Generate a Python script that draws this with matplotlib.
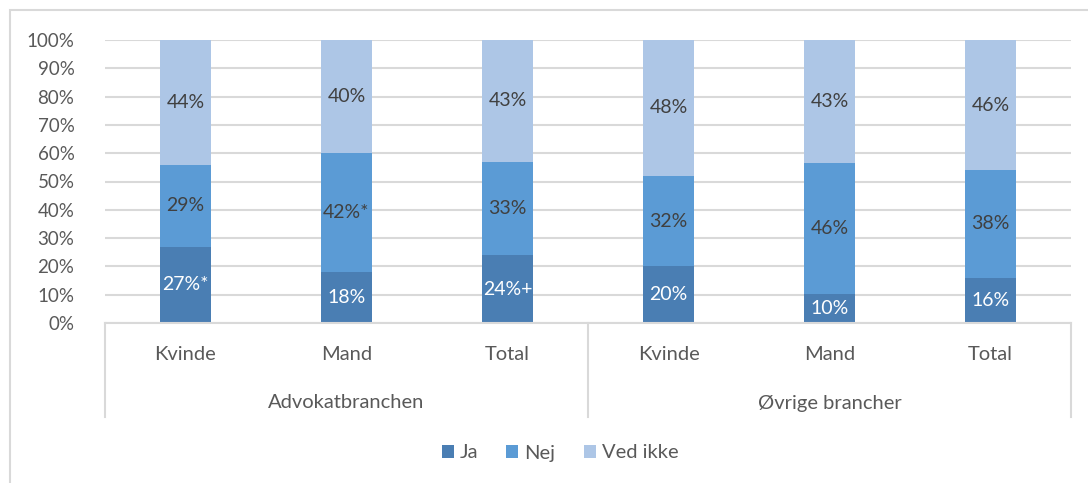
import numpy as np
import matplotlib
matplotlib.use("Agg")
import matplotlib.pyplot as plt
from matplotlib.patches import Rectangle
from matplotlib.lines import Line2D
import matplotlib.transforms as mtransforms

plt.rcParams["font.family"] = ["Lato", "DejaVu Sans"]

# Data
categories = ["Kvinde", "Mand", "Total", "Kvinde", "Mand", "Total"]
groups = ["Advokatbranchen", "Øvrige brancher"]
ja = [27, 18, 24, 20, 10, 16]
nej = [29, 42, 33, 32, 46, 38]
ved_ikke = [44, 40, 43, 48, 43, 46]
ja_labels = ["27%*", "18%", "24%+", "20%", "10%", "16%"]
nej_labels = ["29%", "42%*", "33%", "32%", "46%", "38%"]
ved_labels = ["44%", "40%", "43%", "48%", "43%", "46%"]
series_names = ["Ja", "Nej", "Ved ikke"]
colors = ["#4a7eb3", "#5b9bd5", "#adc6e6"]

W, H = 1088, 483
fig = plt.figure(figsize=(W / 100, H / 100), dpi=100)

# outer chart frame (left/top visible)
fig.patches.append(Rectangle((10 / W, -0.1), 1.2, 1 - 10 / H + 0.1,
                             transform=fig.transFigure, fill=False,
                             edgecolor="#d9d9d9", linewidth=1.5))

ax = fig.add_axes([105 / W, 1 - 323 / H, (1071 - 105) / W, 283 / H])
x = np.arange(len(categories))
bw = 0.32

# 100% stacked: normalise each column by its total
totals = np.array(ja) + np.array(nej) + np.array(ved_ikke)

bottoms = np.zeros(len(x))
handles = []
for vals, labs, col, name, tcol in zip([ja, nej, ved_ikke],
                                       [ja_labels, nej_labels, ved_labels],
                                       colors, series_names,
                                       ["white", "#404040", "#404040"]):
    vals = np.array(vals) / totals
    b = ax.bar(x, vals, bw, bottom=bottoms, color=col, label=name, zorder=2)
    handles.append(b)
    for xi, v, bt, lab in zip(x, vals, bottoms, labs):
        ax.text(xi, bt + v / 2, lab, ha="center", va="center",
                color=tcol, fontsize=14, zorder=3)
    bottoms = bottoms + vals

ax.set_xlim(-0.5, 5.5)
ax.set_ylim(0, 1)
ax.set_yticks(np.arange(0, 1.01, 0.1))
ax.set_yticklabels([f"{int(round(t * 100))}%" for t in np.arange(0, 1.01, 0.1)])
ax.yaxis.grid(True, color="#d9d9d9", linewidth=1.5, zorder=0)
ax.set_axisbelow(True)
ax.tick_params(axis="y", length=0, pad=22, labelsize=13.5, labelcolor="#595959")
ax.set_xticks([])
for s in ["left", "right", "top"]:
    ax.spines[s].set_visible(False)
ax.spines["bottom"].set_color("#d9d9d9")
ax.spines["bottom"].set_linewidth(1.5)

trans = mtransforms.blended_transform_factory(ax.transData, ax.transAxes)
for xi, c in zip(x, categories):
    ax.text(xi, -31 / 283, c, transform=trans, ha="center", va="center",
            fontsize=14.5, color="#595959")
for gi, g in enumerate(groups):
    ax.text(gi * 3 + 1, -80 / 283, g, transform=trans, ha="center", va="center",
            fontsize=14.5, color="#595959")
for sx in [-0.5, 2.5, 5.5]:
    ax.add_line(Line2D([sx, sx], [0, -94 / 283], transform=trans,
                       color="#d9d9d9", linewidth=1.5, clip_on=False))

leg = fig.legend(handles, series_names, loc="center",
                 bbox_to_anchor=(560 / W, 1 - 453 / H), ncol=3, frameon=False,
                 fontsize=14.5, handlelength=0.6, handleheight=0.6,
                 handletextpad=0.3, columnspacing=1.4)
for t in leg.get_texts():
    t.set_color("#595959")

fig.savefig("out.png", dpi=100)
